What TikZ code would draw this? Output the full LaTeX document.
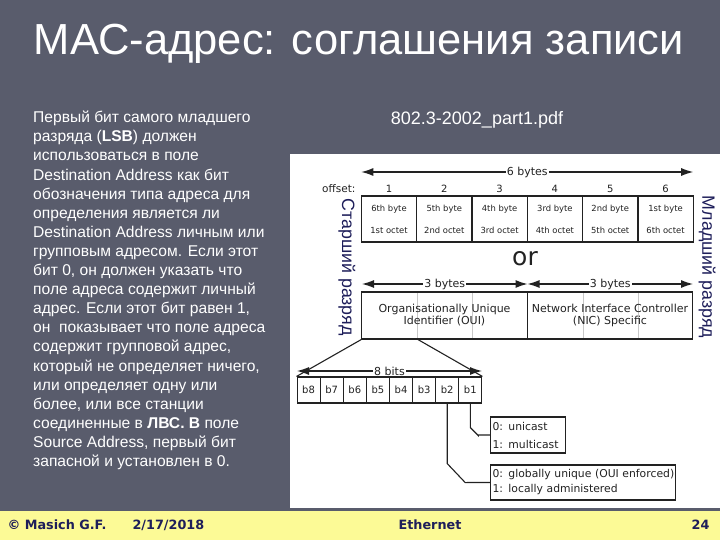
\documentclass[tikz,border=0pt]{standalone}
\usepackage{fontspec}
\setmainfont{Liberation Sans}
\newfontfamily\djv{DejaVu Sans}
\usetikzlibrary{arrows.meta}
\definecolor{slate}{HTML}{595C6C}
\definecolor{foot}{HTML}{FCFA96}
\definecolor{navy}{HTML}{1E1E5A}
\definecolor{ink}{HTML}{222222}
\definecolor{lgrey}{HTML}{C8C8C8}
\tikzset{
  cell/.style={draw=ink,line width=1.3pt,minimum width=55.3pt,minimum height=46pt,inner sep=0pt,align=center,
    font={\djv\fontsize{8.4}{22}\selectfont},text=ink},
  half/.style={draw=ink,line width=1.3pt,minimum width=165.5pt,minimum height=47pt,inner sep=0pt},
  bit/.style={draw=ink,line width=1.1pt,minimum width=23.1pt,minimum height=26pt,inner sep=0pt,
    font={\djv\fontsize{10}{11}\selectfont},text=ink},
  infobox/.style={draw=ink,line width=1.1pt,inner sep=0pt,align=left,anchor=west,text=ink},
  dim/.style={line width=1.1pt,draw=ink,{Latex[length=12pt,width=8pt]}-{Latex[length=12pt,width=8pt]}},
  dimlbl/.style={fill=white,inner sep=1pt,text=ink,font={\djv\fontsize{11}{12}\selectfont}},
  conn/.style={draw=ink,line width=1.1pt},
  side/.style={rotate=-90,text=navy,font={\fontsize{17.8}{19}\selectfont}},
  foottxt/.style={text=navy,font={\djv\bfseries\fontsize{12.8}{14}\selectfont}},
}
\begin{document}
\begin{tikzpicture}[x=1pt,y=-1pt]
\useasboundingbox (0,0) rectangle (720,540);
\fill[slate] (0,0) rectangle (720,540);
\fill[white] (290,154) rectangle (720,508);
\fill[foot] (0,511) rectangle (720,540);

% title
\node[text=white,font={\fontsize{43.5}{48}\selectfont},anchor=base] (title) at (359,55) {МАС-адрес: соглашения записи};

% left text
\node[text=white,anchor=north west,align=left,inner sep=0pt,font={\fontsize{15.6}{19.1}\selectfont}] (body) at (33,111)
{Первый бит самого младшего\\
разряда (\textbf{LSB}) должен\\
использоваться в поле\\
Destination Address как бит\\
обозначения типа адреса для\\
определения является ли\\
Destination Address личным или\\
групповым адресом. Если этот\\
бит 0, он должен указать что\\
поле адреса содержит личный\\
адрес. Если этот бит равен 1,\\
он\ \ показывает что поле адреса\\
содержит групповой адрес,\\
который не определяет ничего,\\
или определяет одну или\\
более, или все станции\\
соединенные в \textbf{ЛВС. В} поле\\
Source Address, первый бит\\
запасной и установлен в 0.};

\node[text=white,font={\fontsize{18}{20}\selectfont}] (src) at (477,120) {802.3-2002\_part1.pdf};

% side labels
\node[side] (old) at (347,267) {Старший разряд};
\node[side] (young) at (707,267) {Младший разряд};

% 6-byte table
\node[cell] (c1) at (389,219) {6th byte\\1st octet};
\node[cell] (c2) at (444.3,219) {5th byte\\2nd octet};
\node[cell] (c3) at (499.6,219) {4th byte\\3rd octet};
\node[cell] (c4) at (554.9,219) {3rd byte\\4th octet};
\node[cell] (c5) at (610.2,219) {2nd byte\\5th octet};
\node[cell] (c6) at (665.5,219) {1st byte\\6th octet};

\node[text=ink,font={\djv\fontsize{10.5}{11}\selectfont},anchor=base east] (off) at (359,193) {offset:};
\foreach \i in {1,...,6}{
  \node[text=ink,font={\djv\fontsize{10}{11}\selectfont},anchor=base] (n\i) at ([yshift=3pt]c\i.north) {\i};
}
\coordinate (b6l) at (361.3,172);
\coordinate (b6r) at (693.2,172);
\draw[dim] (b6l) -- node[dimlbl] (lb6) {6 bytes} (b6r);

\node[text=ink,font={\djv\fontsize{25}{27}\selectfont}] (or) at (525,259) {or};

% OUI / NIC
\draw[lgrey,line width=0.8pt] (417,292) -- (417,339) (472,292) -- (472,339) (583,292) -- (583,339) (638,292) -- (638,339);
\node[half] (oui) at (444.5,315.5) {};
\node[half] (nic) at (610,315.5) {};
\node[text=ink,align=center,font={\djv\fontsize{11}{12}\selectfont}] (ouit) at (444.5,315) {Organisationally Unique\\Identifier (OUI)};
\node[text=ink,align=center,font={\djv\fontsize{11}{12}\selectfont}] (nict) at (610,315) {Network Interface Controller\\(NIC) Specific};
\coordinate (o3l) at (362,284);
\coordinate (o3m) at (527.5,284);
\coordinate (o3r) at (693,284);
\draw[dim] (o3l) -- node[dimlbl] (lb3a) {3 bytes} (o3m);
\draw[dim] (o3m) -- node[dimlbl] (lb3b) {3 bytes} (o3r);
\coordinate (ouim) at (417,339);

% bits
\foreach \k/\lab in {0/b8,1/b7,2/b6,3/b5,4/b4,5/b3,6/b2,7/b1}{
  \node[bit] (\lab) at ({308.6+23.1*\k},390) {\lab};
}
\coordinate (e8l) at (297,371);
\coordinate (e8r) at (482,371);
\draw[dim] (e8l) -- node[dimlbl] (lb8) {8 bits} (e8r);
\draw[conn] (oui.south west) -- (b8.north west);
\draw[conn] (ouim) -- (b1.north east);

% info boxes
\node[infobox,minimum width=75pt,minimum height=36pt,text width=73pt,font={\djv\fontsize{10.8}{18}\selectfont}] (uni) at (490,435) {\hspace*{1pt}0: unicast\\\hspace*{1pt}1: multicast};
\node[infobox,minimum width=185pt,minimum height=35pt,text width=183pt,font={\djv\fontsize{10.8}{15}\selectfont}] (glob) at (490,482.5) {\hspace*{1pt}0: globally unique (OUI enforced)\\\hspace*{1pt}1: locally administered};
\draw[conn] (b1.south) -- ++(0,24) -- ++(8,8) |- (uni.west);
\draw[conn] (b2.south) -- ++(0,60) -- ++(18,19) -- (glob.west);

% footer
\node[foottxt,anchor=west] (f1) at (4,525) {© Masich G.F.};
\node[foottxt,anchor=west] (f2) at (129,525) {2/17/2018};
\node[foottxt] (f3) at (430,525) {Ethernet};
\node[foottxt,anchor=east] (f4) at (713,525) {24};
\end{tikzpicture}
\end{document}
